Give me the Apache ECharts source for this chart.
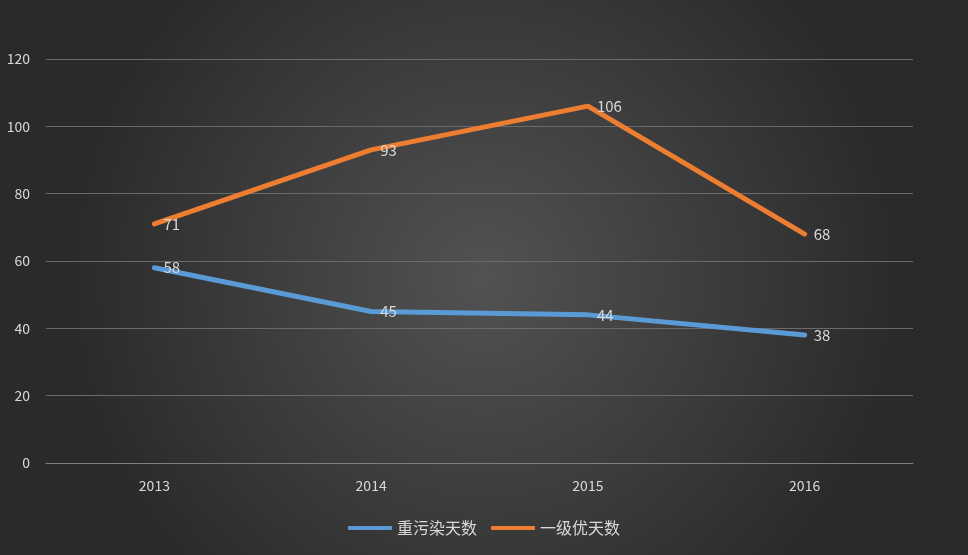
<!DOCTYPE html>
<html>
<head>
<meta charset="utf-8">
<script src="https://cdn.jsdelivr.net/npm/echarts@6/dist/echarts.min.js"></script>
<style>html,body{margin:0;padding:0;}#main{width:968px;height:555px;}</style>
</head>
<body>
<div id="main"></div>
<script>
var years = ['2013', '2014', '2015', '2016'];
var heavyPollution = [58, 45, 44, 38];
var firstGrade = [71, 93, 106, 68];

var chart = echarts.init(document.getElementById('main'));
var labelStyle = {show: true, position: 'right', distance: 8, color: '#d9d9d9', fontSize: 15, fontFamily: 'Noto Sans CJK SC'};
chart.setOption({
	backgroundColor: {
		type: 'radial', x: 0.5, y: 0.5, r: 0.75,
		colorStops: [{offset: 0, color: '#525252'}, {offset: 1, color: '#2a2a2a'}]
	},
	textStyle: {fontFamily: 'Noto Sans CJK SC'},
	color: ['#5b9bd5', '#ed7d31'],
	legend: {
		bottom: 14, itemWidth: 44, itemHeight: 4, itemGap: 14,
		icon: 'roundRect',
		textStyle: {color: '#d9d9d9', fontSize: 16}
	},
	grid: {left: 46, right: 55, top: 59, bottom: 92},
	xAxis: {
		type: 'category', data: years,
		axisLine: {lineStyle: {color: '#7f7f7f'}},
		axisTick: {show: false},
		axisLabel: {color: '#d9d9d9', fontSize: 14, margin: 16}
	},
	yAxis: {
		type: 'value', min: 0, max: 120, interval: 20,
		axisLabel: {color: '#d9d9d9', fontSize: 14, margin: 16},
		splitLine: {lineStyle: {color: '#6a6a6a'}}
	},
	series: [
		{name: '重污染天数', type: 'line', data: heavyPollution, symbol: 'circle', symbolSize: 2,
		 lineStyle: {width: 5, cap: 'round'}, label: labelStyle},
		{name: '一级优天数', type: 'line', data: firstGrade, symbol: 'circle', symbolSize: 2,
		 lineStyle: {width: 5, cap: 'round'}, label: labelStyle}
	]
});
</script>
</body>
</html>
